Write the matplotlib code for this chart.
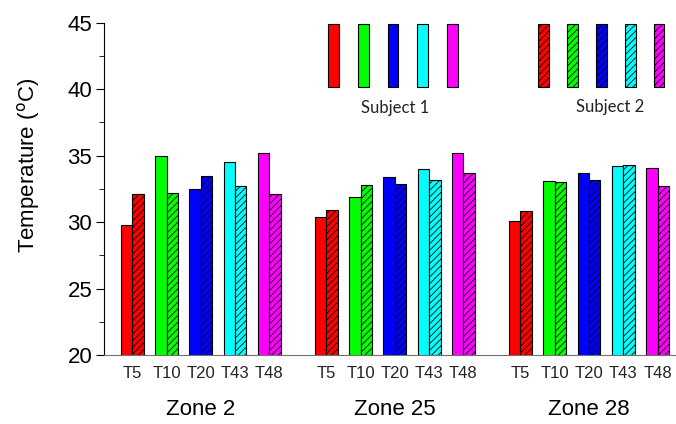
import numpy as np
import matplotlib.pyplot as plt
from matplotlib.patches import Patch
from matplotlib.ticker import MultipleLocator

sensors = ['T5', 'T10', 'T20', 'T43', 'T48']
zones = ['Zone 2', 'Zone 25', 'Zone 28']
colors = ['#ff0000', '#00ff00', '#0000ff', '#00ffff', '#ff00ff']

# one row per zone, one value per sensor
subject1 = [
    [29.8, 35.0, 32.5, 34.5, 35.2],
    [30.4, 31.9, 33.4, 34.0, 35.2],
    [30.1, 33.1, 33.7, 34.2, 34.1],
]
subject2 = [
    [32.1, 32.2, 33.5, 32.7, 32.1],
    [30.9, 32.8, 32.9, 33.2, 33.7],
    [30.8, 33.0, 33.2, 34.3, 32.7],
]

plt.rcParams['font.family'] = ['Liberation Sans', 'DejaVu Sans']
plt.rcParams['hatch.linewidth'] = 0.6

fig = plt.figure(figsize=(6.76, 4.24), dpi=100)
ax = fig.add_axes([0.1538, 0.1627, 0.8462, 0.7838])

zone_step = 5.667
w = 1 / 3
ticks = []
for z, zone in enumerate(zones):
    pos = z * zone_step + np.arange(len(sensors))
    ax.bar(pos - w / 2, subject1[z], w, color=colors, edgecolor='black', lw=0.8)
    ax.bar(pos + w / 2, subject2[z], w, color=colors, edgecolor='black', lw=0.8, hatch='/////')
    ax.text(pos.mean(), -0.1625, zone, transform=ax.get_xaxis_transform(),
            ha='center', va='center', fontsize=16)
    ticks.extend(pos)

ax.set_xticks(ticks)
ax.set_xticklabels(sensors * len(zones))
ax.tick_params(axis='x', length=0, pad=8, labelsize=12, labelcolor='#222222')
ax.set_xlim(-0.826, 15.874)

ax.set_ylim(20, 45)
ax.yaxis.set_major_locator(MultipleLocator(5))
ax.yaxis.set_minor_locator(MultipleLocator(2.5))
ax.tick_params(axis='y', which='major', length=5.5, pad=3, labelsize=16)
ax.tick_params(axis='y', which='minor', length=3.5)
ax.set_ylabel(r'Temperature ($^{\rm o}$C)', fontsize=16)
ax.yaxis.set_label_coords(-0.109, 0.572)

ax.spines['top'].set_visible(False)
ax.spines['right'].set_visible(False)
ax.spines['bottom'].set_color('#707070')

h1 = [Patch(facecolor=c, edgecolor='black', lw=0.8) for c in colors]
h2 = [Patch(facecolor=c, edgecolor='black', lw=0.8, hatch='/////') for c in colors]
leg1 = ax.legend(h1, [''] * 5, ncol=5, loc='upper left', bbox_to_anchor=(0.4857, 0.9427),
                 bbox_transform=fig.transFigure, frameon=False, fontsize=10,
                 handlelength=0.77, handleheight=6.6, handletextpad=0, columnspacing=1.37,
                 borderpad=0, borderaxespad=0)
ax.add_artist(leg1)
ax.legend(h2, [''] * 5, ncol=5, loc='upper left', bbox_to_anchor=(0.7963, 0.9427),
          bbox_transform=fig.transFigure, frameon=False, fontsize=10,
          handlelength=0.76, handleheight=6.6, handletextpad=0, columnspacing=1.32,
          borderpad=0, borderaxespad=0)

ax.text(0.5087, 0.743, 'Subject 1', transform=ax.transAxes, ha='center', va='center',
        fontsize=12, family='Lato', color='#222222')
ax.text(0.8846, 0.747, 'Subject 2', transform=ax.transAxes, ha='center', va='center',
        fontsize=12, family='Lato', color='#222222')

fig.savefig('out.png', dpi=100)
